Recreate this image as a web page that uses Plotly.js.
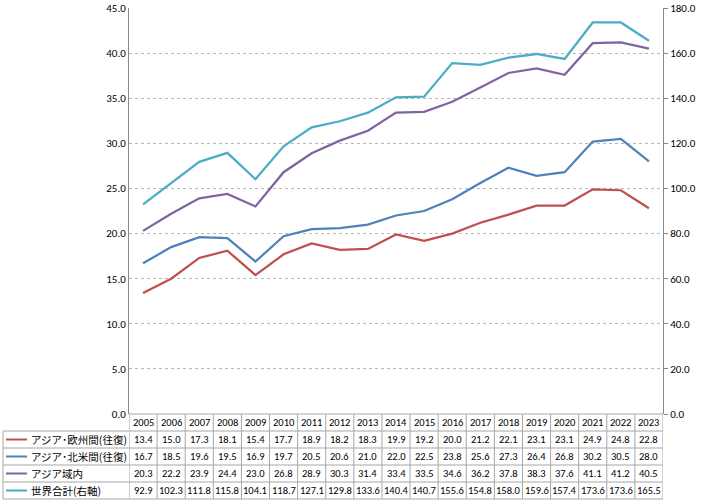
<!DOCTYPE html>
<html><head><meta charset="utf-8">
<script src="https://cdn.plot.ly/plotly-3.0.1.min.js"></script>
<style>body{margin:0;background:#fff}#c{width:708px;height:502px}</style>
</head><body><div id="c"></div>
<script>
const years = ['2005','2006','2007','2008','2009','2010','2011','2012','2013','2014','2015','2016','2017','2018','2019','2020','2021','2022','2023'];
const seriesNames = ['アジア･欧州間(往復)','アジア･北米間(往復)','アジア域内','世界合計(右軸)'];
const asiaEurope = [13.4,15.0,17.3,18.1,15.4,17.7,18.9,18.2,18.3,19.9,19.2,20.0,21.2,22.1,23.1,23.1,24.9,24.8,22.8];
const asiaNA = [16.7,18.5,19.6,19.5,16.9,19.7,20.5,20.6,21.0,22.0,22.5,23.8,25.6,27.3,26.4,26.8,30.2,30.5,28.0];
const intraAsia = [20.3,22.2,23.9,24.4,23.0,26.8,28.9,30.3,31.4,33.4,33.5,34.6,36.2,37.8,38.3,37.6,41.1,41.2,40.5];
const world = [92.9,102.3,111.8,115.8,104.1,118.7,127.1,129.8,133.6,140.4,140.7,155.6,154.8,158.0,159.6,157.4,173.6,173.6,165.5];
const colors = ['#C0504D','#4F81BD','#8064A2','#4BACC6'];

const allSeries = [asiaEurope, asiaNA, intraAsia, world];
const traces = allSeries.map((v,i)=>({
  x: years, y: v, type:'scatter', mode:'lines', name: seriesNames[i],
  yaxis: i===3 ? 'y2' : 'y',
  line:{color:colors[i], width:2.25}, hoverinfo:'skip'
}));

const L=129, R=45, T=8, B=88, W=708, Hh=502;
const PH = Hh-T-B, PW = W-L-R;
const py = p => (Hh-B - p)/PH;
const px = p => (p - L)/PW;
const rowTops = [414,431,448,465,482,499];
const font = 'Carlito, Calibri, "Noto Sans CJK JP", sans-serif';
const shapes = [], ann = [];
const gcol = '#a6a6a6';
rowTops.forEach((t,k)=>{
  shapes.push({type:'line', xref:'paper', yref:'paper', x0: k===0?0:px(3), x1:1, y0:py(t), y1:py(t), line:{color:gcol,width:1}});
});
for(let i=0;i<=years.length;i++){
  shapes.push({type:'line', xref:'x', yref:'paper', x0:i-0.5, x1:i-0.5, y0:py(414), y1:py(499), line:{color:gcol,width:1}});
}
shapes.push({type:'line', xref:'paper', yref:'paper', x0:px(3), x1:px(3), y0:py(431), y1:py(499), line:{color:gcol,width:1}});
years.forEach((y,i)=>{
  ann.push({xref:'x', yref:'paper', x:i, y:py(422.5), text:y, showarrow:false, font:{family:font,size:10.5,color:'#000'}, xanchor:'center', yanchor:'middle'});
});
allSeries.forEach((v,k)=>{
  const cy = py((rowTops[k+1]+rowTops[k+2])/2);
  shapes.push({type:'line', xref:'paper', yref:'paper', x0:px(6), x1:px(27), y0:cy, y1:cy, line:{color:colors[k],width:2}});
  ann.push({xref:'paper', yref:'paper', x:px(29), y:cy, text:seriesNames[k], showarrow:false, xanchor:'left', yanchor:'middle', font:{family:'"Noto Sans CJK JP", sans-serif',size:10.5,color:'#000'}});
  v.forEach((val,i)=>{
    ann.push({xref:'x', yref:'paper', x:i, y:cy, text:val.toFixed(1), showarrow:false, xanchor:'center', yanchor:'middle', font:{family:font,size:10.5,color:'#000'}});
  });
});

const layout = {
  width:W, height:Hh, margin:{l:L,r:R,t:T,b:B}, showlegend:false,
  paper_bgcolor:'#fff', plot_bgcolor:'#fff',
  xaxis:{type:'category', range:[-0.5,18.5], showticklabels:false, showgrid:false, zeroline:false, ticks:'', showline:false},
  yaxis:{range:[0,45], dtick:5, tickformat:'.1f', showgrid:true, gridcolor:'#b8b8b8', griddash:'dot', gridwidth:1,
    zeroline:false, showline:true, linecolor:'#868686', linewidth:1, ticks:'', ticklen:0,
    tickfont:{family:font,size:11,color:'#000'}},
  yaxis2:{range:[0,180], dtick:20, tickformat:'.1f', overlaying:'y', side:'right', showgrid:false, zeroline:false,
    showline:true, linecolor:'#868686', linewidth:1, ticks:'outside', ticklen:4, tickcolor:'#868686',
    tickfont:{family:font,size:11,color:'#000'}},
  shapes: shapes, annotations: ann
};
Plotly.newPlot('c', traces, layout, {staticPlot:true});
</script></body></html>
